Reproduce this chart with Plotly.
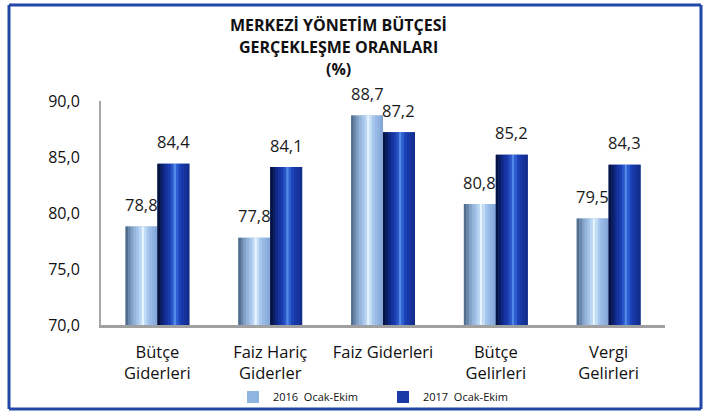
import plotly.graph_objects as go

categories = ["Bütçe<br>Giderleri", "Faiz Hariç<br>Giderler", "Faiz Giderleri", "Bütçe<br>Gelirleri", "Vergi<br>Gelirleri"]
values_2016 = [78.8, 77.8, 88.7, 80.8, 79.5]
values_2017 = [84.4, 84.1, 87.2, 85.2, 84.3]
series_names = ["2016  Ocak-Ekim", "2017  Ocak-Ekim"]
title_lines = ["MERKEZİ YÖNETİM BÜTÇESİ", "GERÇEKLEŞME ORANLARI", "(%)"]

FONT = "Open Sans"
W, H = 711, 416
L, R, T, B = 101, 46, 101, 91
pw = W - L - R
ph = H - T - B

BAR_W = 0.283  # width of one bar in category units

# cylinder-like shading stripes (left -> right)
LIGHT_BASE = "#8FB4E0"
DARK_BASE = "#1A3AA6"
LIGHT_STRIPES = ["#536d8d", "#6a86aa", "#83a0c6", "#96b4da", "#a5c3e8", "#bad6f2",
                 "#e6f4ff", "#c4ddf6", "#a6c6ed", "#99bae6", "#90b2e0", "#86a8d8"]
DARK_STRIPES = ["#06133f", "#0a1d60", "#0f2886", "#1433a0", "#1a3daf", "#2a55c8",
                "#5089e8", "#2e5ed2", "#1b42b6", "#1739a8", "#15339b", "#132d8c"]


def px_x(p):
    return (p - L) / pw


def px_y(p):
    return (H - B - p) / ph


def fmt(v):
    return f"{v:.1f}".replace(".", ",")


fig = go.Figure()

series = [
    (values_2016, series_names[0], LIGHT_BASE, LIGHT_STRIPES, -BAR_W),
    (values_2017, series_names[1], DARK_BASE, DARK_STRIPES, 0.0),
]

for vals, name, base, stripes, off in series:
    fig.add_trace(go.Bar(
        x=categories, y=vals, name=name, offset=off, width=BAR_W,
        marker=dict(color=base, line=dict(width=0)), showlegend=True,
        hoverinfo="skip",
    ))
    n = len(stripes)
    for i, c in enumerate(stripes):
        fig.add_trace(go.Bar(
            x=categories, y=vals, offset=off + i * BAR_W / n, width=BAR_W / n * 1.02,
            marker=dict(color=c, line=dict(width=0)), showlegend=False,
            hoverinfo="skip",
        ))

annotations = []
bar_px = BAR_W * pw / len(categories)
for vals, shift in [(values_2016, -bar_px / 2), (values_2017, bar_px / 2)]:
    for cat, v in zip(categories, vals):
        annotations.append(dict(
            x=cat, y=v, xref="x", yref="y", text=fmt(v), showarrow=False,
            xshift=shift, yshift=22, xanchor="center", yanchor="middle",
            font=dict(family=FONT, size=16.5, color="#1a1a1a"),
        ))

for line, py in zip(title_lines, [25, 47, 69]):
    annotations.append(dict(
        text=f"<b>{line}</b>", xref="paper", yref="paper",
        x=px_x(338), y=px_y(py), showarrow=False,
        xanchor="center", yanchor="middle",
        font=dict(family=FONT, size=16, color="#111111"),
    ))

BX0, BX1, BY0, BY1 = 9, 701, 5, 409
BORDER = dict(color="#2148A8", width=3)
shapes = [
    dict(type="line", xref="paper", yref="paper", x0=px_x(BX0), x1=px_x(BX1),
         y0=px_y(BY0), y1=px_y(BY0), line=BORDER, layer="above"),
    dict(type="line", xref="paper", yref="paper", x0=px_x(BX0), x1=px_x(BX1),
         y0=px_y(BY1), y1=px_y(BY1), line=BORDER, layer="above"),
    dict(type="line", xref="paper", yref="paper", x0=px_x(BX0), x1=px_x(BX0),
         y0=px_y(BY0), y1=px_y(BY1), line=BORDER, layer="above"),
    dict(type="line", xref="paper", yref="paper", x0=px_x(BX1), x1=px_x(BX1),
         y0=px_y(BY0), y1=px_y(BY1), line=BORDER, layer="above"),
]

fig.update_layout(
    width=W, height=H,
    margin=dict(l=L, r=R, t=T, b=B, autoexpand=False),
    paper_bgcolor="white", plot_bgcolor="white",
    barmode="overlay",
    separators=",.",
    font=dict(family=FONT, size=16, color="#111111"),
    showlegend=True,
    legend=dict(orientation="h", x=px_x(233), y=px_y(397), xanchor="left", yanchor="middle",
                font=dict(family=FONT, size=11, color="#111111"), entrywidth=105,
                itemwidth=30, bgcolor="rgba(0,0,0,0)", traceorder="normal"),
    shapes=shapes, annotations=annotations,
    xaxis=dict(showline=True, linecolor="#A0A0A0", linewidth=3, ticks="",
               tickfont=dict(family=FONT, size=16.5, color="#111111"),
               ticklabelstandoff=10, showgrid=False, automargin=False),
    yaxis=dict(range=[70, 90], dtick=5, tickformat=".1f", showline=True,
               linecolor="#A6A6A6", linewidth=2, showgrid=False, zeroline=False,
               ticks="",
               tickfont=dict(family=FONT, size=16, color="#111111"),
               ticklabelstandoff=16, automargin=False),
)

fig.write_html(
    "out.html",
    config={"displayModeBar": False},
    post_script="document.body.style.margin='0';document.body.style.overflow='hidden';",
)
